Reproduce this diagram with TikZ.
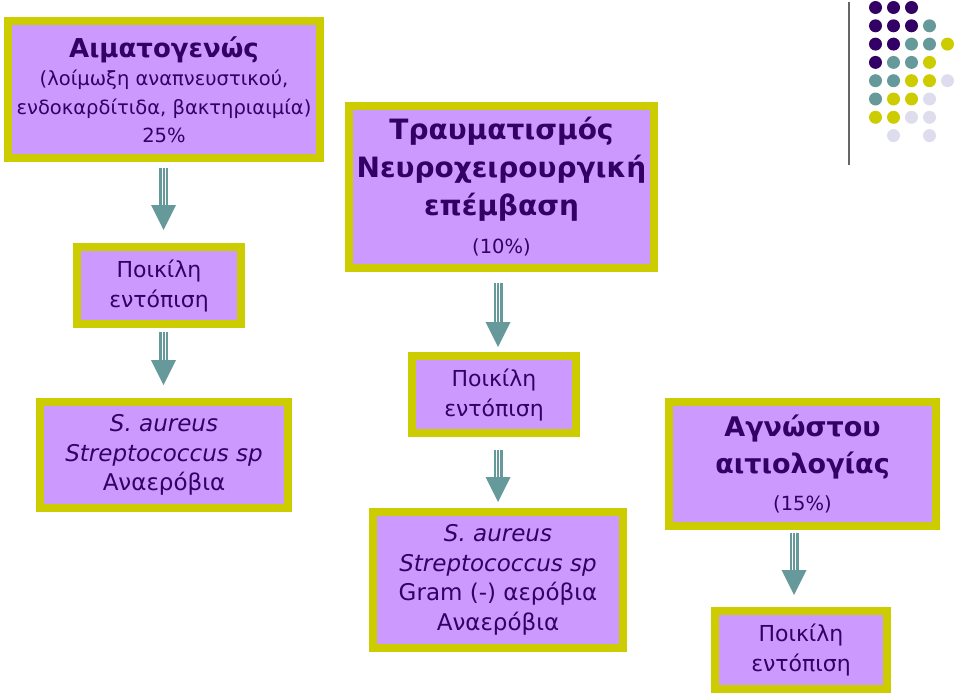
\documentclass[tikz,border=0pt]{standalone}
\usepackage{fontspec}
\setmainfont{DejaVu Sans}
\usepackage{tikz}
\usetikzlibrary{calc, positioning}
\usepackage{xcolor}
\definecolor{boxfill}{RGB}{204,153,255}
\definecolor{boxrim}{RGB}{204,204,0}
\definecolor{boxtext}{RGB}{51,0,102}
\definecolor{arrowteal}{RGB}{102,153,153}
\definecolor{dotdark}{RGB}{51,0,102}
\definecolor{dotlav}{RGB}{221,221,238}

\newcommand{\stripearrow}[5]{%
  \coordinate (ax) at (#3,0);
  \coordinate (top) at ($(ax |- #1.south)+(0,#4)$);
  \coordinate (tip) at ($(ax |- #2.north)+(0,-#5)$);
  \fill[arrowteal] ($(top)+(-4.5,0)$) rectangle ($(tip)+(4.5,-25)$);
  \draw[white, line width=0.9pt] ($(top)+(-1.5,0)$) -- ($(tip)+(-1.5,-25)$);
  \draw[white, line width=0.9pt] ($(top)+(1.5,0)$) -- ($(tip)+(1.5,-25)$);
  \fill[arrowteal] ($(tip)+(-12.5,-25)$) -- ($(tip)+(12.5,-25)$) -- (tip) -- cycle;
}

\begin{document}
\begin{tikzpicture}[
    x=1pt, y=-1pt,
    causebox/.style={rectangle, draw=boxrim, line width=8pt, fill=boxfill, align=center, text=boxtext, inner sep=0pt},
    smallfont/.style={font=\fontsize{19.5}{28.5}\selectfont},
    locfont/.style={font=\fontsize{22}{30}\selectfont},
    bigfont/.style={font=\fontsize{28}{38}\selectfont\bfseries},
    germfont/.style={font=\fontsize{23}{29.5}\selectfont\itshape}
]
\useasboundingbox (0,0) rectangle (959,696);

\node[causebox, smallfont, minimum width=312, minimum height=137] (blood) at (164,89.5)
  {{\fontsize{26}{30}\selectfont\bfseries Αιματογενώς}\\(λοίμωξη αναπνευστικού,\\ενδοκαρδίτιδα, βακτηριαιμία)\\25\%};
\node[causebox, locfont, minimum width=164, minimum height=77] (loc1) at (159,285.5) {Ποικίλη\\εντόπιση};
\node[causebox, germfont, minimum width=248, minimum height=106] (germ1) at (164,455)
  {S. aureus\\Streptococcus sp\\\upshape Αναερόβια};

\node[causebox, bigfont, minimum width=305, minimum height=162] (trauma) at (501.5,187)
  {Τραυματισμός\\Νευροχειρουργική\\επέμβαση\\{\fontsize{19.5}{28}\selectfont\mdseries (10\%)}};
\node[causebox, locfont, minimum width=164, minimum height=77] (loc2) at (494,394.5) {Ποικίλη\\εντόπιση};
\node[causebox, germfont, minimum width=250, minimum height=136] (germ2) at (498,580)
  {S. aureus\\Streptococcus sp\\\upshape Gram (-) αερόβια\\\upshape Αναερόβια};

\node[causebox, bigfont, font=\fontsize{27}{37}\selectfont\bfseries, minimum width=267, minimum height=124] (unknown) at (802.5,464)
  {Αγνώστου\\αιτιολογίας\\{\fontsize{19.5}{28}\selectfont\mdseries (15\%)}};
\node[causebox, locfont, minimum width=172, minimum height=78] (loc3) at (801,650) {Ποικίλη\\εντόπιση};

\stripearrow{blood}{loc1}{163.5}{6}{13}
\stripearrow{loc1}{germ1}{163.5}{4}{13}
\stripearrow{trauma}{loc2}{498}{11}{5}
\stripearrow{loc2}{germ2}{498}{13}{6}
\stripearrow{unknown}{loc3}{794}{3}{12}

\draw[gray!80!black, line width=2pt] (849,2) -- (849,165);
\foreach \r/\a/\b/\c/\d/\e in {0/dotdark/dotdark/dotdark/none/none, 1/dotdark/dotdark/dotdark/arrowteal/none,
    2/dotdark/dotdark/arrowteal/arrowteal/boxrim, 3/dotdark/arrowteal/arrowteal/boxrim/none,
    4/arrowteal/arrowteal/boxrim/boxrim/dotlav, 5/arrowteal/boxrim/boxrim/dotlav/none,
    6/boxrim/boxrim/dotlav/dotlav/none, 7/none/dotlav/none/dotlav/none}
  \foreach \col [count=\i from 0] in {\a,\b,\c,\d,\e}
    \path[fill=\col] (875.5+18*\i, 7.5+18.3*\r) circle (6.5);
\end{tikzpicture}
\end{document}
